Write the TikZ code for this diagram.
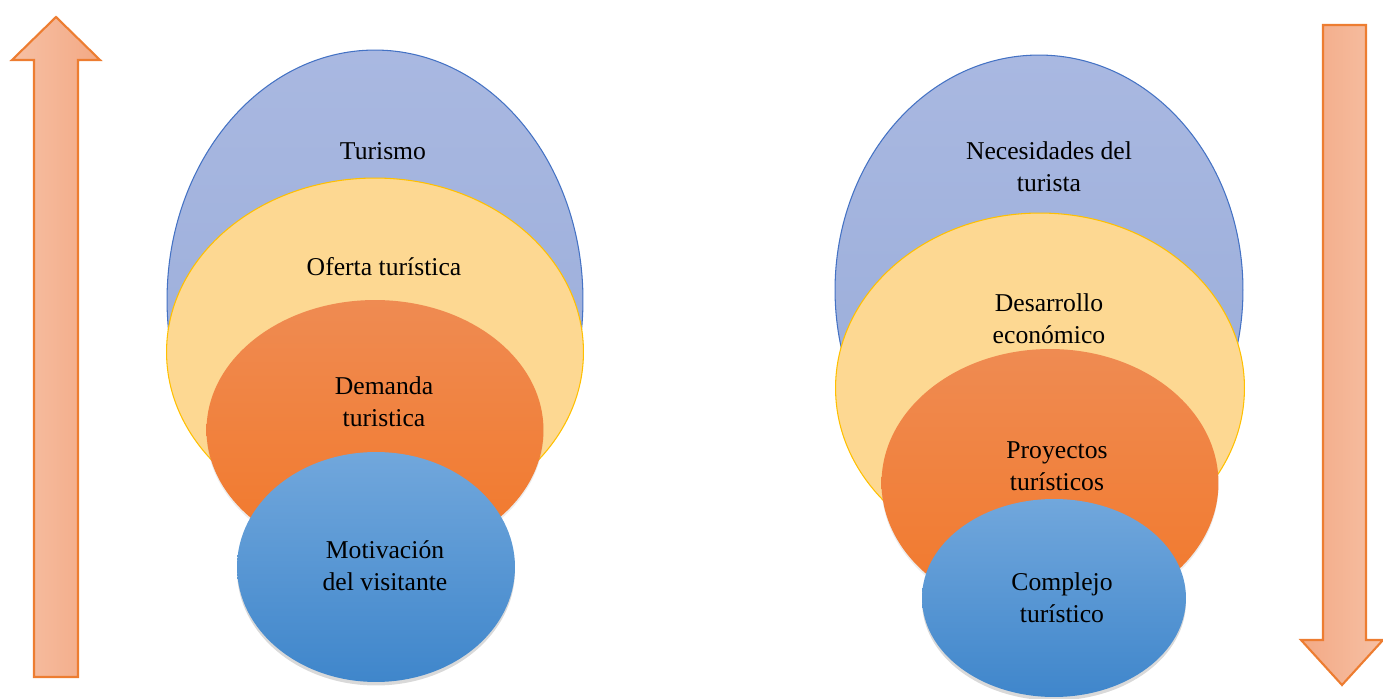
\documentclass[tikz,border=0pt]{standalone}
\usepackage{fontspec}
\setmainfont{Liberation Serif}
\usepackage{tikz}
\usetikzlibrary{shapes.geometric, shadows}

\definecolor{lilaTop}{HTML}{A9B8E1}
\definecolor{lilaBot}{HTML}{97ABD8}
\definecolor{lilaLine}{HTML}{4472C4}
\definecolor{yellowFill}{HTML}{FDD892}
\definecolor{yellowLine}{HTML}{FFC000}
\definecolor{orangeTop}{HTML}{EF8B52}
\definecolor{orangeBot}{HTML}{F2782A}
\definecolor{blueTop}{HTML}{71A7DC}
\definecolor{blueBot}{HTML}{3F86CB}
\definecolor{arrowLight}{HTML}{F6C0A4}
\definecolor{arrowDark}{HTML}{F3A985}
\definecolor{arrowLine}{HTML}{ED7D31}

\begin{document}
\begin{tikzpicture}[
    x=0.02cm, y=-0.02cm,
    set/.style={
        ellipse,
        inner sep=0pt,
        outer sep=0pt
    },
    outerset/.style={set, draw=lilaLine, line width=0.6pt, top color=lilaTop, bottom color=lilaBot},
    midset/.style={set, draw=yellowLine, line width=0.6pt, fill=yellowFill},
    innerset/.style={set, top color=orangeTop, bottom color=orangeBot,
        drop shadow={opacity=0.15, shadow xshift=0pt, shadow yshift=-1.5pt}},
    coreset/.style={set, top color=blueTop, bottom color=blueBot,
        drop shadow={opacity=0.3, shadow xshift=0pt, shadow yshift=-2pt}},
    txt/.style={font=\fontsize{14.6}{18}\selectfont, align=center, inner sep=0pt},
    flow/.style={draw=arrowLine, line width=1.2pt, line join=miter}
]
\useasboundingbox (0,0) rectangle (1383,699);

% arrows
\path[flow, left color=arrowLight, right color=arrowDark]
    (56,17) -- (100,60) -- (78,60) -- (78,677) -- (34,677) -- (34,60) -- (12,60) -- cycle;
\path[flow, left color=arrowDark, right color=arrowLight]
    (1323,25) -- (1366,25) -- (1366,640) -- (1383,640) -- (1342,685) -- (1301,640) -- (1323,640) -- cycle;

% left group
\node[outerset, minimum width=8.32cm, minimum height=10cm] (tur) at (375,300) {};
\node[midset, minimum width=8.34cm, minimum height=6.96cm] (ofe) at (375,352) {};
\node[innerset, minimum width=6.74cm, minimum height=5.2cm] (dem) at (375,430) {};
\node[coreset, minimum width=5.56cm, minimum height=4.6cm] (mot) at (376,567) {};

\node[txt] (turT) at (383,151) {Turismo};
\node[txt] (ofeT) at (384,267) {Oferta turística};
\node[txt] (demT) at (384,402) {Demanda\\turistica};
\node[txt] (motT) at (385,566) {Motivación\\del visitante};

% right group
\node[outerset, minimum width=8.16cm, minimum height=9.4cm] (nec) at (1039,290) {};
\node[midset, minimum width=8.18cm, minimum height=7cm] (des) at (1040,388) {};
\node[innerset, minimum width=6.74cm, minimum height=5.36cm] (pro) at (1050,483) {};
\node[coreset, minimum width=5.28cm, minimum height=3.96cm] (com) at (1054,598) {};

\node[txt] (necT) at (1049,167) {Necesidades del\\turista};
\node[txt] (desT) at (1049,319) {Desarrollo\\económico};
\node[txt] (proT) at (1057,466) {Proyectos\\turísticos};
\node[txt] (comT) at (1062,598) {Complejo\\turístico};

\end{tikzpicture}
\end{document}
